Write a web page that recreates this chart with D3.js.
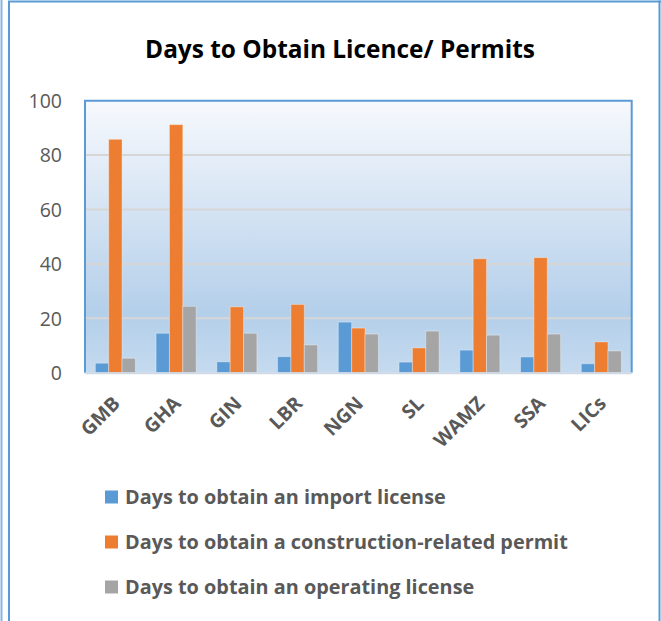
<!DOCTYPE html>
<html>
<head>
<meta charset="utf-8">
<script src="https://cdn.jsdelivr.net/npm/d3@7"></script>
<style>
  html, body { margin: 0; padding: 0; background: #fff; }
  svg { display: block; }
</style>
</head>
<body>
<script>
const categories = ["GMB", "GHA", "GIN", "LBR", "NGN", "SL", "WAMZ", "SSA", "LICs"];
const importLicense = [3.5, 14.5, 4.0, 5.9, 18.6, 3.9, 8.3, 5.8, 3.3];
const constructionPermit = [85.8, 91.2, 24.2, 25.1, 16.4, 9.1, 41.9, 42.3, 11.3];
const operatingLicense = [5.3, 24.4, 14.5, 10.2, 14.2, 15.3, 13.8, 14.2, 8.0];
const seriesNames = [
  "Days to obtain an import license",
  "Days to obtain a construction-related permit",
  "Days to obtain an operating license"
];
const seriesColors = ["#5b9bd5", "#ed7d31", "#a5a5a5"];
const yTicks = [0, 20, 40, 60, 80, 100];
const title = "Days to Obtain Licence/ Permits";

const series = [importLicense, constructionPermit, operatingLicense];

const W = 661, H = 621;
const plot = { left: 85, top: 100.7, right: 631.7, bottom: 372.7 };
const FONT = "'Open Sans', 'Noto Sans', sans-serif";

const svg = d3.select("body").append("svg").attr("width", W).attr("height", H);

// outer frame
svg.append("line").attr("x1", 1.5).attr("x2", 1.5).attr("y1", 0).attr("y2", H)
  .attr("stroke", "#86b5e2").attr("stroke-width", 2);
svg.append("line").attr("x1", 9).attr("x2", 9).attr("y1", 1).attr("y2", H)
  .attr("stroke", "#5b9bd5").attr("stroke-width", 2);
svg.append("line").attr("x1", 8).attr("x2", W).attr("y1", 1.5).attr("y2", 1.5)
  .attr("stroke", "#5b9bd5").attr("stroke-width", 2);
svg.append("line").attr("x1", 659.5).attr("x2", 659.5).attr("y1", 0.5).attr("y2", H)
  .attr("stroke", "#5b9bd5").attr("stroke-width", 2);

// gradient
const defs = svg.append("defs");
const grad = defs.append("linearGradient").attr("id", "bg").attr("x1", 0).attr("x2", 0).attr("y1", 0).attr("y2", 1);
grad.append("stop").attr("offset", "0%").attr("stop-color", "#f7f9fd");
grad.append("stop").attr("offset", "78%").attr("stop-color", "#b4cfea");
grad.append("stop").attr("offset", "100%").attr("stop-color", "#c4daef");

const x = d3.scaleBand().domain(categories).range([plot.left, plot.right])
  .paddingInner(0.34).paddingOuter(0.17);
const xs = d3.scaleBand().domain(d3.range(series.length)).range([0, x.bandwidth()]);
const y = d3.scaleLinear().domain([0, 100]).range([plot.bottom, plot.top]);

svg.append("rect").attr("x", plot.left).attr("y", plot.top)
  .attr("width", plot.right - plot.left).attr("height", plot.bottom - plot.top)
  .attr("fill", "url(#bg)");

// gridlines
svg.append("g").selectAll("line").data(yTicks.filter(t => t > 0 && t < 100)).join("line")
  .attr("x1", plot.left).attr("x2", plot.right)
  .attr("y1", d => y(d)).attr("y2", d => y(d))
  .attr("stroke", "#d6d6d6").attr("stroke-width", 2);

// bars
const g = svg.append("g");
series.forEach((vals, si) => {
  g.append("g").selectAll("rect").data(categories).join("rect")
    .attr("x", (c) => x(c) + xs(si))
    .attr("y", (c, i) => y(vals[i]))
    .attr("width", xs.bandwidth())
    .attr("height", (c, i) => y(0) - y(vals[i]))
    .attr("fill", seriesColors[si])
    .attr("stroke", "rgba(255,255,255,0.35)")
    .attr("stroke-width", 1);
});

// plot border
svg.append("path")
  .attr("d", `M${plot.left},${plot.bottom}V${plot.top}H${plot.right}V${plot.bottom}`)
  .attr("fill", "none").attr("stroke", "#5b9bd5").attr("stroke-width", 2);
svg.append("line").attr("x1", plot.left).attr("x2", plot.right)
  .attr("y1", plot.bottom + 0.5).attr("y2", plot.bottom + 0.5)
  .attr("stroke", "#d0dae6").attr("stroke-width", 2);

// y axis labels
const yAxis = d3.axisLeft(y).tickValues(yTicks).tickSize(0).tickPadding(23);
const ya = svg.append("g").attr("transform", `translate(${plot.left},0)`).call(yAxis);
ya.select(".domain").remove();
ya.selectAll("text").attr("font-family", FONT).attr("font-size", 19.5)
  .attr("fill", "#595959").attr("dy", "0.35em");

// x axis labels
const xAxis = d3.axisBottom(x).tickSize(0).tickPadding(0);
const xa = svg.append("g").attr("transform", `translate(0,${plot.bottom})`).call(xAxis);
xa.select(".domain").remove();
xa.selectAll("text")
  .attr("font-family", FONT).attr("font-size", 19.5).attr("font-weight", "bold")
  .attr("fill", "#595959").attr("text-anchor", "end").attr("dy", 0).attr("y", 0)
  .attr("transform", "translate(6,32) rotate(-45)");

// title
const t = svg.append("text").attr("x", 340).attr("y", 58).attr("text-anchor", "middle")
  .attr("font-family", FONT).attr("font-weight", "bold").attr("font-size", 20)
  .attr("fill", "#000").text(title);
const tw = t.node().getComputedTextLength();
t.attr("font-size", 20 * 390 / tw);

// legend
const lg = svg.append("g");
const rows = [497, 542, 587];
let legendSize = 18;
seriesNames.forEach((name, i) => {
  lg.append("rect").attr("x", 105).attr("y", rows[i] - 6.5).attr("width", 13).attr("height", 13)
    .attr("fill", seriesColors[i]);
  lg.append("text").attr("class", "lt").attr("x", 125).attr("y", rows[i]).attr("dy", "0.35em")
    .attr("font-family", FONT).attr("font-weight", "bold").attr("font-size", legendSize)
    .attr("fill", "#595959").text(name);
});
const longest = lg.selectAll("text.lt").nodes()[1].getComputedTextLength();
lg.selectAll("text.lt").attr("font-size", legendSize * 443 / longest);
</script>
</body>
</html>
